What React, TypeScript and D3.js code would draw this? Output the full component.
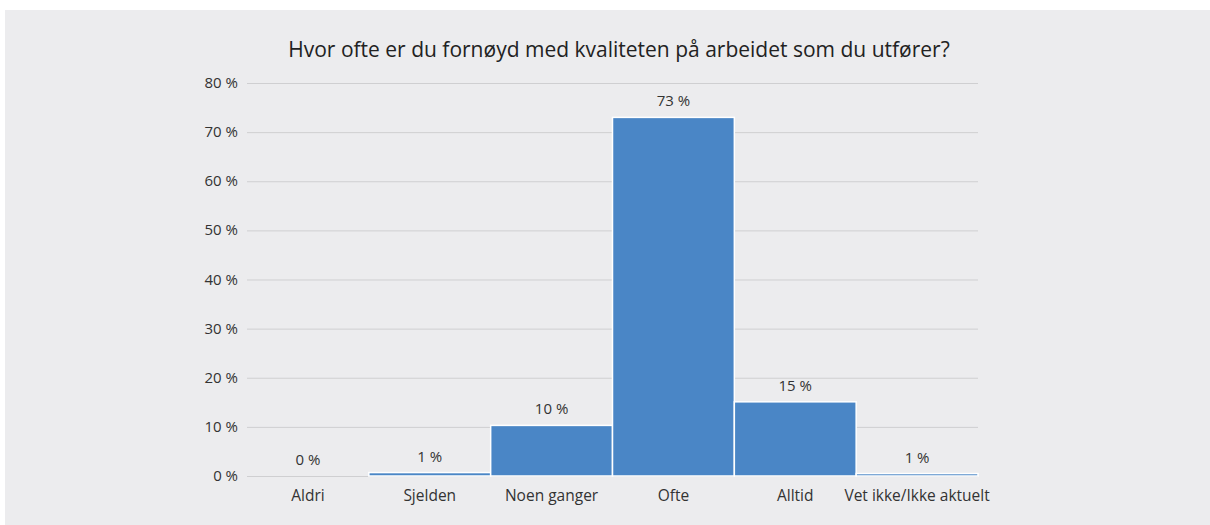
import * as d3 from 'd3'
import { useEffect, useRef } from 'react'

const title = 'Hvor ofte er du fornøyd med kvaliteten på arbeidet som du utfører?'
const categories = ['Aldri', 'Sjelden', 'Noen ganger', 'Ofte', 'Alltid', 'Vet ikke/Ikke aktuelt']
const values = [0, 0.7, 10.3, 73, 15.1, 0.5]
const labels = ['0 %', '1 %', '10 %', '73 %', '15 %', '1 %']
const yTicks = [0, 10, 20, 30, 40, 50, 60, 70, 80]

const width = 1210
const height = 525
const font = '"Open Sans", sans-serif'

export default function App() {
  const ref = useRef<SVGSVGElement>(null)

  useEffect(() => {
    document.body.style.margin = '0'
    document.body.style.overflow = 'hidden'
    const svg = d3.select(ref.current)
    svg.selectAll('*').remove()

    svg.append('rect')
      .attr('x', 5).attr('y', 10)
      .attr('width', width - 5).attr('height', height - 10)
      .attr('fill', '#ececee')

    const x = d3.scaleBand()
      .domain(categories)
      .range([247, 978])
      .padding(0)
    const y = d3.scaleLinear()
      .domain([0, 80])
      .range([476, 83])

    // gridlines
    svg.append('g')
      .selectAll('line')
      .data(yTicks)
      .join('line')
      .attr('x1', 247).attr('x2', 978)
      .attr('y1', d => y(d) + 0.5).attr('y2', d => y(d) + 0.5)
      .attr('stroke', '#cfcfd1')
      .attr('stroke-width', 1)

    // y tick labels
    svg.append('g')
      .selectAll('text')
      .data(yTicks)
      .join('text')
      .attr('x', 238)
      .attr('y', d => y(d) + 5)
      .attr('text-anchor', 'end')
      .attr('font-family', font)
      .attr('font-size', 15)
      .attr('fill', '#333')
      .text(d => `${d} %`)

    // bars
    svg.append('g')
      .selectAll('rect')
      .data(values)
      .join('rect')
      .attr('x', (d, i) => x(categories[i])!)
      .attr('y', d => y(d))
      .attr('width', x.bandwidth())
      .attr('height', d => y(0) - y(d))
      .attr('fill', '#4a86c6')
      .attr('stroke', '#ffffff')
      .attr('stroke-width', 1.5)

    // value labels
    svg.append('g')
      .selectAll('text')
      .data(values)
      .join('text')
      .attr('x', (d, i) => x(categories[i])! + x.bandwidth() / 2)
      .attr('y', d => y(d) - 11)
      .attr('text-anchor', 'middle')
      .attr('font-family', font)
      .attr('font-size', 15)
      .attr('fill', '#333')
      .text((d, i) => labels[i])

    // category labels
    svg.append('g')
      .selectAll('text')
      .data(categories)
      .join('text')
      .attr('x', d => x(d)! + x.bandwidth() / 2)
      .attr('y', 501)
      .attr('text-anchor', 'middle')
      .attr('font-family', font)
      .attr('font-size', 15.5)
      .attr('fill', '#333')
      .text(d => d)

    svg.append('text')
      .attr('x', 619)
      .attr('y', 57)
      .attr('text-anchor', 'middle')
      .attr('font-family', font)
      .attr('font-size', 21)
      .attr('fill', '#222')
      .text(title)
  }, [])

  return (
    <svg ref={ref} width={width} height={height} style={{ display: 'block', background: '#fff' }} />
  )
}
